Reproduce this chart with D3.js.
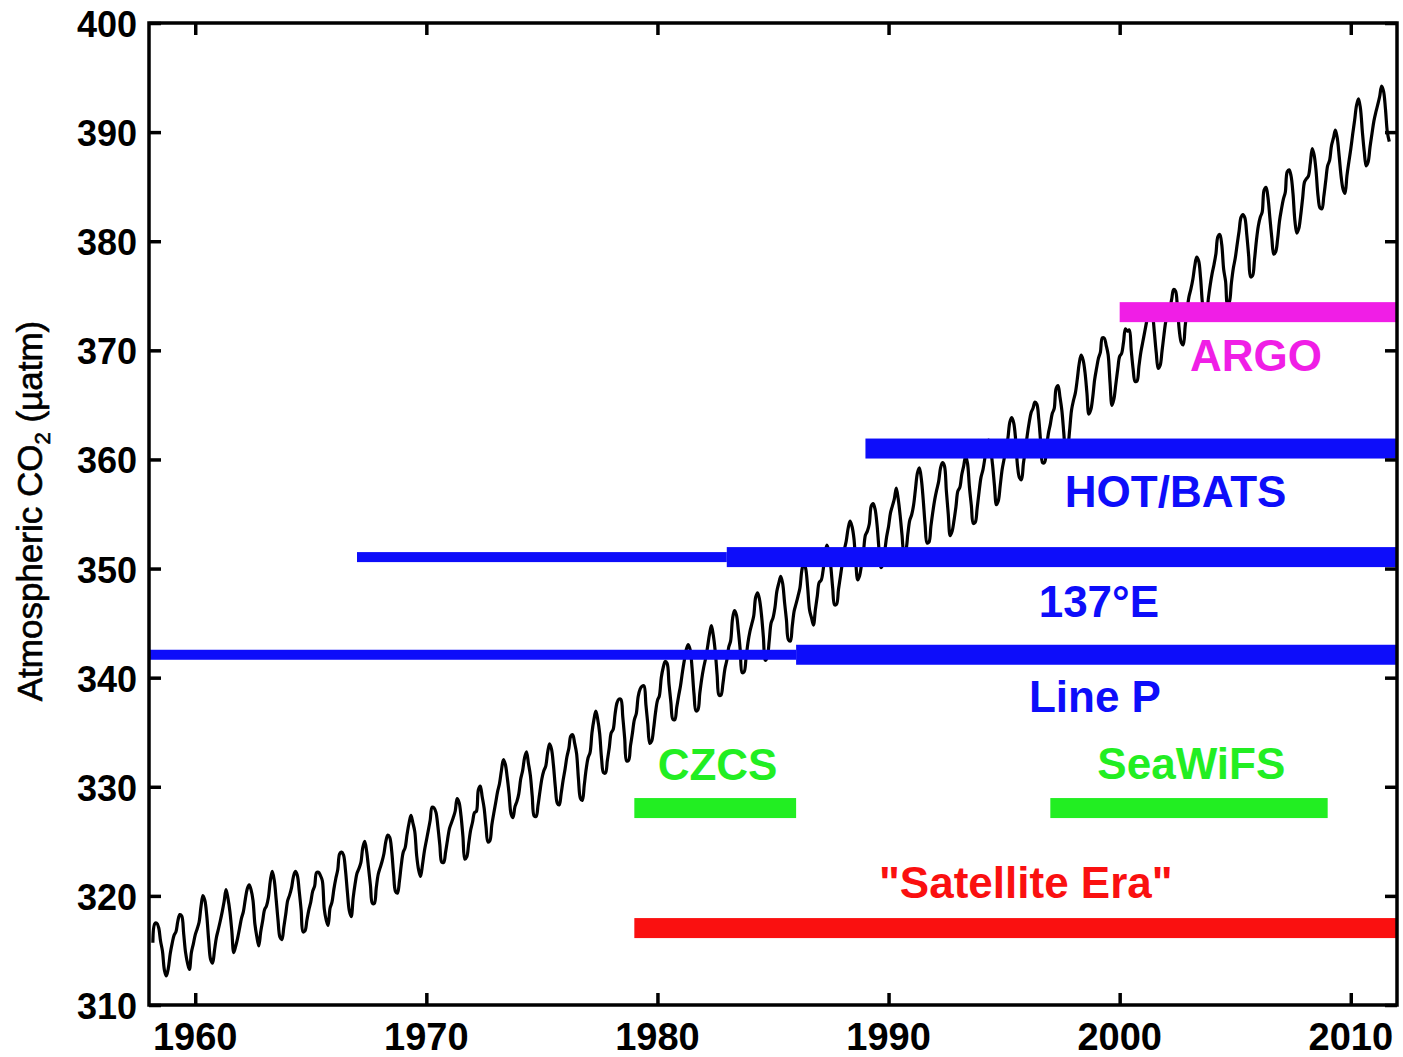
<!DOCTYPE html>
<html><head><meta charset="utf-8">
<script src="https://cdn.jsdelivr.net/npm/d3@7"></script>
<style>body{margin:0;background:#fff}svg{display:block}</style>
</head><body>
<svg id="chart" width="1403" height="1057"></svg>
<script>
// ---- DATA ----
const startYear = 1958, startMonth = 3; // first monthly value: March 1958
const co2Monthly = [
 315.71,317.45,317.50,317.10,315.86,314.93,313.20,312.66,313.33,314.67,
 315.62,316.38,316.71,317.72,318.29,318.15,316.54,314.80,313.84,313.26,314.80,315.58,
 316.43,316.97,317.58,319.02,320.03,319.59,318.18,315.91,314.16,313.83,315.00,316.19,
 316.93,317.70,318.54,319.48,320.58,319.77,318.57,316.79,314.80,315.38,316.10,317.01,
 317.94,318.56,319.68,320.63,321.01,320.55,319.58,317.40,316.26,315.42,316.69,317.69,
 318.74,319.08,319.86,321.39,322.25,321.47,319.74,317.77,316.21,315.99,317.12,318.31,
 319.57,320.07,320.73,321.77,322.25,321.89,320.44,318.70,316.70,316.79,317.79,318.71,
 319.44,320.44,320.89,322.13,322.16,321.87,321.39,318.81,317.81,317.30,318.87,319.42,
 320.62,321.59,322.39,323.87,324.01,323.75,322.39,320.37,318.64,318.10,319.79,321.08,
 322.07,322.50,323.04,324.42,325.00,324.09,322.55,320.92,319.31,319.31,320.72,321.96,
 322.57,323.15,323.89,325.02,325.57,325.36,324.14,322.03,320.41,320.25,321.31,322.84,
 324.00,324.42,325.64,326.66,327.38,326.70,325.89,323.67,322.38,321.78,322.85,324.12,
 325.06,325.98,326.93,328.13,328.07,327.66,326.35,324.69,323.10,323.07,324.01,325.13,
 326.17,326.68,327.18,327.78,328.92,328.57,327.34,325.46,323.36,323.57,324.80,326.01,
 326.77,327.63,327.75,329.72,330.07,329.09,328.05,326.32,324.93,325.06,326.50,327.55,
 328.54,329.56,330.30,331.50,332.48,332.07,330.87,329.31,327.51,327.18,328.16,328.64,
 329.35,330.71,331.48,332.65,333.20,332.16,331.07,329.12,327.32,327.28,328.30,329.58,
 330.73,331.46,331.90,333.17,333.94,333.45,331.97,329.95,328.50,328.34,329.37,330.58,
 331.59,332.75,333.52,334.64,334.77,334.00,333.06,330.68,328.95,328.75,330.15,331.62,
 332.66,333.13,334.95,336.13,336.93,336.17,334.88,332.56,331.29,331.27,332.41,333.60,
 334.95,335.25,336.66,337.69,338.03,338.01,336.41,334.41,332.37,332.41,333.75,334.90,
 336.14,336.69,338.27,338.95,339.21,339.26,337.54,335.75,333.98,334.19,335.31,336.81,
 337.90,338.34,340.01,340.93,341.48,341.33,339.40,337.70,336.19,336.15,337.27,338.32,
 339.29,340.55,341.63,342.60,343.04,342.54,340.82,338.48,336.95,337.05,338.58,339.91,
 340.93,341.76,342.78,343.96,344.77,343.88,342.42,340.24,338.38,338.41,339.44,340.78,
 341.57,342.79,343.37,345.40,346.14,345.76,344.32,342.51,340.46,340.53,341.79,343.20,
 344.21,344.92,345.68,347.37,347.78,347.16,345.79,343.74,341.59,341.86,343.31,345.00,
 345.48,346.41,347.91,348.66,349.28,348.65,346.90,345.26,343.47,343.35,344.73,346.12,
 346.78,347.48,348.25,349.86,350.52,349.98,348.25,346.17,345.48,344.82,346.22,347.49,
 348.73,348.92,349.81,351.40,352.15,351.58,350.21,348.20,346.66,346.72,348.08,349.28,
 350.51,351.70,352.50,353.67,354.35,353.88,352.80,350.49,348.97,349.37,350.42,351.62,
 353.07,353.43,354.08,355.72,355.95,355.44,354.05,351.84,350.09,350.33,351.55,352.91,
 353.86,355.10,355.75,356.38,357.38,356.39,354.89,353.06,351.38,351.69,353.14,354.41,
 354.93,355.82,357.33,358.77,359.23,358.23,356.30,353.97,352.34,352.43,353.89,355.21,
 356.34,357.21,357.97,359.22,359.71,359.43,357.15,354.99,353.01,353.41,354.42,355.68,
 357.10,357.42,358.59,359.39,360.30,359.64,357.45,355.76,354.14,354.23,355.53,357.03,
 358.36,359.04,360.11,361.36,361.78,360.94,359.51,357.59,355.86,356.21,357.65,359.10,
 360.04,361.00,361.98,363.44,363.83,363.33,361.78,359.33,358.32,358.14,359.61,360.82,
 362.20,363.36,364.28,364.69,365.25,365.06,363.69,361.55,359.69,359.72,361.04,362.39,
 363.24,364.21,364.65,366.49,366.77,365.73,364.46,362.40,360.44,360.98,362.65,364.51,
 365.39,366.10,367.36,368.79,369.56,369.13,367.98,366.10,364.16,364.54,365.67,367.30,
 368.35,369.28,369.84,371.15,371.12,370.46,369.61,367.06,364.95,365.52,366.88,368.26,
 369.45,369.71,370.75,371.98,371.75,371.87,370.02,368.27,367.15,367.18,368.53,369.83,
 370.76,371.69,372.63,373.55,374.03,373.40,371.68,369.78,368.34,368.61,369.94,371.42,
 372.70,373.37,373.85,374.67,375.58,375.44,373.91,371.77,370.72,370.50,372.19,373.71,
 374.92,375.63,376.51,377.75,378.54,378.21,376.65,374.28,373.12,373.10,374.67,375.97,
 377.03,377.87,378.88,380.42,380.62,379.70,377.43,376.32,374.19,374.47,376.15,377.51,
 378.43,379.70,380.92,382.18,382.45,382.14,380.60,378.64,376.73,376.84,378.29,380.06,
 381.40,382.20,382.66,384.69,384.94,384.01,382.14,380.31,378.81,379.03,380.17,381.85,
 382.94,383.86,384.49,386.37,386.54,385.98,384.36,381.85,380.74,381.15,382.38,383.94,
 385.44,385.73,385.97,387.16,388.50,387.88,386.38,384.15,383.07,382.98,384.11,385.54,
 386.92,387.41,388.77,389.46,390.18,389.43,387.74,385.91,384.77,384.38,385.99,387.26,
 388.45,389.82,391.08,392.46,393.05,392.20,390.07,388.21,386.91,387.25,388.64,389.85,
 391.01,391.82,392.51,393.26,394.21,393.76,392.14,389.99,389.12
];
const xTickValues = [1960, 1970, 1980, 1990, 2000, 2010];
const yTickValues = [310, 320, 330, 340, 350, 360, 370, 380, 390, 400];
const xDomain = [1958, 2012];
const yDomain = [310, 400];

// observation programmes: segments
const segProgram = ["ARGO", "HOT/BATS", "137°E", "137°E", "Line P", "Line P", "CZCS", "SeaWiFS", "Satellite"];
const segStart   = [2000, 1989, 1967, 1983, 1958, 1986, 1979, 1997, 1979];
const segEnd     = [2012, 2012, 1983, 2012, 1986, 2012, 1986, 2009, 2012];
const segValue   = [373.5, 361.0, 351.05, 351.05, 342.1, 342.1, 328.05, 328.05, 317.05];
const segThin    = [false, false, true, false, true, false, false, false, false];

// labels (anchor: centre year, baseline value)
const labelText  = ["ARGO", "HOT/BATS", "137°E", "Line P", "CZCS", "SeaWiFS", "\"Satellite Era\""];
const labelProg  = ["ARGO", "HOT/BATS", "137°E", "Line P", "CZCS", "SeaWiFS", "Satellite"];
const labelYear  = [2005.9, 2002.42, 1999.1, 1998.93, 1982.6, 2003.1, 1995.94];
const labelValue = [368.1, 355.6, 345.55, 336.85, 330.6, 330.75, 319.8];

// ---- STYLE ----
const colors = {"ARGO":"#f01ee6", "HOT/BATS":"#0d0dfa", "137°E":"#0d0dfa", "Line P":"#0d0dfa",
                "CZCS":"#22ee22", "SeaWiFS":"#22ee22", "Satellite":"#fa1010"};
const font = "'Liberation Sans', Arial, Helvetica, sans-serif";

const svg = d3.select("#chart");
const M = {left:149, right:1397, top:23, bottom:1005};
const x = d3.scaleLinear().domain(xDomain).range([M.left, M.right]);
const y = d3.scaleLinear().domain(yDomain).range([M.bottom, M.top]);

svg.append("rect").attr("width",1403).attr("height",1057).attr("fill","#fff");

svg.append("defs").append("clipPath").attr("id","plotclip")
  .append("rect").attr("x",M.left).attr("y",M.top).attr("width",M.right-M.left).attr("height",M.bottom-M.top);

const co2 = co2Monthly.map((v,i)=>({t: startYear + (startMonth-1+i)/12, v}));

const plot = svg.append("g").attr("clip-path","url(#plotclip)");
plot.append("path").datum(co2)
  .attr("fill","none").attr("stroke","#000").attr("stroke-width",3.2).attr("stroke-linejoin","round")
  .attr("d", d3.line().x(d=>x(d.t)).y(d=>y(d.v)).curve(d3.curveCatmullRom.alpha(0.5)));

const segs = segProgram.map((p,i)=>({p, s:segStart[i], e:segEnd[i], v:segValue[i], thin:segThin[i]}));
plot.selectAll("rect.seg").data(segs).enter().append("rect").attr("class","seg")
  .attr("x", d=>x(d.s)).attr("width", d=>x(d.e)-x(d.s))
  .attr("y", d=>y(d.v)-(d.thin?5:10)).attr("height", d=>d.thin?10:20)
  .attr("fill", d=>colors[d.p]);

const labels = labelText.map((t,i)=>({t, p:labelProg[i], yr:labelYear[i], v:labelValue[i]}));
svg.selectAll("text.lab").data(labels).enter().append("text").attr("class","lab")
  .attr("x", d=>x(d.yr)).attr("y", d=>y(d.v))
  .attr("text-anchor","middle").attr("font-family",font).attr("font-weight","bold")
  .attr("font-size",44).attr("fill", d=>colors[d.p]).text(d=>d.t);

// axes (ticks inside on all sides)
const tickLen = 12;
const axStyle = g => { g.select(".domain").remove(); g.selectAll(".tick line").attr("stroke","#000").attr("stroke-width",3.5); };
svg.append("g").attr("transform",`translate(0,${M.bottom})`)
  .call(d3.axisBottom(x).tickValues(xTickValues).tickSize(-tickLen).tickFormat(""))
  .call(axStyle);
svg.append("g").attr("transform",`translate(0,${M.top})`)
  .call(d3.axisTop(x).tickValues(xTickValues).tickSize(-tickLen).tickFormat(""))
  .call(axStyle);
svg.append("g").attr("transform",`translate(${M.left},0)`)
  .call(d3.axisLeft(y).tickValues(yTickValues).tickSize(-tickLen).tickFormat(""))
  .call(axStyle);
svg.append("g").attr("transform",`translate(${M.right},0)`)
  .call(d3.axisRight(y).tickValues(yTickValues).tickSize(-tickLen).tickFormat(""))
  .call(axStyle);

svg.append("rect").attr("x",M.left).attr("y",M.top).attr("width",M.right-M.left).attr("height",M.bottom-M.top)
  .attr("fill","none").attr("stroke","#000").attr("stroke-width",3.5);

// tick labels
svg.selectAll("text.xt").data(xTickValues).enter().append("text").attr("class","xt")
  .attr("x", d=>x(d)).attr("y", 1050).attr("text-anchor","middle")
  .attr("font-family",font).attr("font-weight","bold").attr("font-size",38).attr("fill","#000").text(d=>d);
svg.selectAll("text.yt").data(yTickValues).enter().append("text").attr("class","yt")
  .attr("x", 137).attr("y", d=>y(d)+14).attr("text-anchor","end")
  .attr("font-family",font).attr("font-weight","bold").attr("font-size",36).attr("fill","#000").text(d=>d);

// y title
const yt = svg.append("text").attr("transform","translate(42,511) rotate(-90)")
  .attr("text-anchor","middle").attr("font-family",font).attr("font-size",35).attr("fill","#000")
  .attr("stroke","#000").attr("stroke-width",0.6);
yt.append("tspan").text("Atmospheric CO");
yt.append("tspan").attr("font-size",22).attr("dy",8).text("2");
yt.append("tspan").attr("dy",-8).text(" (\u00b5atm)");
</script>
</body></html>
